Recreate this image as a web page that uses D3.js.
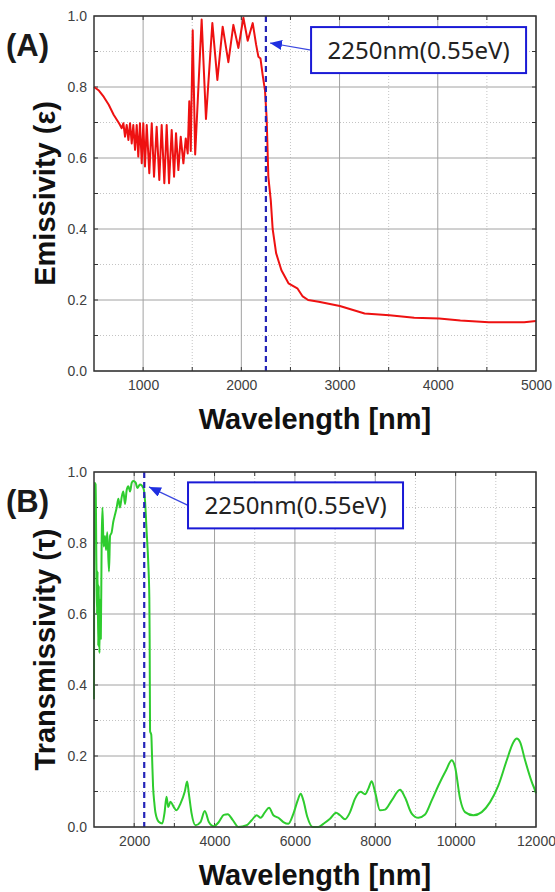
<!DOCTYPE html>
<html>
<head>
<meta charset="utf-8">
<script src="https://cdn.jsdelivr.net/npm/d3@7"></script>
<style>
  body { margin: 0; background: #fff; }
  text { font-family: "Liberation Sans", Arial, sans-serif; }
</style>
</head>
<body>
<svg id="chart"></svg>
<script>
var width = 555,
    height = 892;

// (A) emissivity
var emisWl = [500, 550, 600, 650, 700, 750, 765, 782, 799, 816, 833, 850, 867, 884, 900, 918, 935, 951, 968, 986,
  1002, 1019, 1037, 1063, 1088, 1111, 1138, 1165, 1189, 1216, 1240, 1264, 1291, 1315, 1335, 1359, 1383, 1410, 1434, 1454,
  1470, 1485, 1505, 1530, 1596, 1640, 1705, 1756, 1810, 1868, 1919, 1970, 2021, 2065, 2116, 2150, 2174, 2195, 2217, 2241,
  2258, 2275, 2300, 2319, 2354, 2408, 2480, 2570, 2625, 2680, 2788, 3003, 3255, 3508, 3760, 4014, 4230, 4520, 4880, 5000];
var emisVal = [0.800, 0.790, 0.772, 0.750, 0.722, 0.700, 0.693, 0.684, 0.698, 0.660, 0.693, 0.651, 0.698, 0.641, 0.693, 0.623, 0.693, 0.604, 0.698, 0.585,
  0.698, 0.576, 0.693, 0.557, 0.698, 0.547, 0.688, 0.538, 0.693, 0.529, 0.693, 0.529, 0.679, 0.547, 0.670, 0.566, 0.660, 0.585, 0.655, 0.613,
  0.760, 0.620, 0.960, 0.610, 0.990, 0.710, 0.980, 0.820, 0.970, 0.870, 0.975, 0.910, 0.995, 0.930, 0.980, 0.920, 0.885, 0.880, 0.834, 0.790,
  0.710, 0.547, 0.480, 0.400, 0.332, 0.284, 0.247, 0.233, 0.210, 0.200, 0.195, 0.183, 0.162, 0.157, 0.150, 0.148, 0.142, 0.137, 0.137, 0.141];

// (B) transmissivity
var transWl = [1000, 1008, 1040, 1060, 1075, 1090, 1105, 1120, 1135, 1150, 1170, 1190, 1210, 1240, 1274, 1300, 1330, 1373, 1400, 1440,
  1480, 1523, 1565, 1606, 1647, 1690, 1730, 1772, 1815, 1855, 1896, 1940, 1979, 2037, 2078, 2145, 2228, 2269, 2311, 2352,
  2377, 2385, 2395, 2425, 2445, 2470, 2500, 2530, 2610, 2700, 2755, 2805, 2847, 2903, 2986, 3052, 3152, 3260, 3318, 3360,
  3426, 3526, 3650, 3758, 3858, 3982, 4106, 4230, 4330, 4450, 4592, 4800, 4924, 5049, 5148, 5256, 5356, 5464, 5588, 5712,
  5837, 5961, 6069, 6144, 6210, 6310, 6443, 6584, 6708, 6874, 7024, 7123, 7248, 7372, 7497, 7638, 7744, 7828, 7911, 7994,
  8119, 8244, 8410, 8617, 8741, 8907, 9073, 9239, 9405, 9571, 9762, 9903, 9986, 10110, 10234, 10442, 10649, 10857, 11064, 11272,
  11438, 11521, 11604, 11728, 11894, 11977, 12000];
var transVal = [0.36, 0.97, 0.965, 0.74, 0.60, 0.72, 0.51, 0.68, 0.49, 0.64, 0.53, 0.80, 0.90, 0.79, 0.82, 0.78, 0.83, 0.72, 0.82, 0.83,
  0.86, 0.88, 0.90, 0.925, 0.90, 0.93, 0.945, 0.91, 0.95, 0.96, 0.945, 0.97, 0.975, 0.97, 0.955, 0.965, 0.955, 0.92, 0.83, 0.74,
  0.645, 0.53, 0.27, 0.26, 0.198, 0.114, 0.07, 0.04, 0.015, 0.01, 0.04, 0.085, 0.056, 0.071, 0.056, 0.047, 0.066, 0.10, 0.128, 0.095,
  0.04, 0.005, 0.014, 0.045, 0.014, 0.002, 0.014, 0.034, 0.036, 0.02, 0.0, 0.005, 0.019, 0.033, 0.026, 0.042, 0.054, 0.033, 0.026, 0.014,
  0.009, 0.037, 0.075, 0.094, 0.075, 0.028, 0.0, 0.0, 0.009, 0.023, 0.04, 0.033, 0.022, 0.042, 0.08, 0.099, 0.092, 0.108, 0.129, 0.099,
  0.047, 0.049, 0.075, 0.105, 0.083, 0.038, 0.026, 0.035, 0.075, 0.117, 0.16, 0.188, 0.169, 0.08, 0.042, 0.033, 0.042, 0.07, 0.117, 0.188,
  0.239, 0.249, 0.239, 0.188, 0.127, 0.103, 0.095];

var xTicksA = [1000, 2000, 3000, 4000, 5000];
var xMinorA = [500, 1500, 2500, 3500, 4500];
var xTicksB = [2000, 4000, 6000, 8000, 10000, 12000];
var xMinorB = [1000, 3000, 5000, 7000, 9000, 11000];
var yTicks = [0, 0.2, 0.4, 0.6, 0.8, 1.0];
var yMinor = [0.1, 0.3, 0.5, 0.7, 0.9];

var cutoffNm = 2250;
var cutoffLabel = "2250nm(0.55eV)";

var svg = d3.select('#chart')
            .attr('width', width)
            .attr('height', height);

var defs = svg.append('defs');
defs.append('marker')
    .attr('id', 'head')
    .attr('viewBox', '0 0 12 10')
    .attr('refX', 12).attr('refY', 5)
    .attr('markerWidth', 12).attr('markerHeight', 10)
    .attr('markerUnits', 'userSpaceOnUse')
    .attr('orient', 'auto')
  .append('path')
    .attr('d', 'M0,0 L12,5 L0,10 Z')
    .attr('fill', '#1f2fe0');

function drawPanel(cfg) {
  var left = 94, right = 536;
  var x = d3.scaleLinear().domain(cfg.xDomain).range([left, right]);
  var y = d3.scaleLinear().domain([0, 1]).range([cfg.bottom, cfg.top]);
  var g = svg.append('g');

  // minor grid (dotted)
  g.selectAll('.mx').data(cfg.xMinor.filter(d => d > cfg.xDomain[0])).enter().append('line')
    .attr('x1', d => x(d)).attr('x2', d => x(d))
    .attr('y1', cfg.top).attr('y2', cfg.bottom)
    .attr('stroke', '#c4c4c4').attr('stroke-dasharray', '1,2');
  g.selectAll('.my').data(yMinor).enter().append('line')
    .attr('x1', left).attr('x2', right)
    .attr('y1', d => y(d)).attr('y2', d => y(d))
    .attr('stroke', '#c4c4c4').attr('stroke-dasharray', '1,2');

  // major grid
  g.selectAll('.gx').data(cfg.xTicks).enter().append('line')
    .attr('x1', d => x(d)).attr('x2', d => x(d))
    .attr('y1', cfg.top).attr('y2', cfg.bottom)
    .attr('stroke', '#a2a2a2');
  g.selectAll('.gy').data(yTicks).enter().append('line')
    .attr('x1', left).attr('x2', right)
    .attr('y1', d => y(d)).attr('y2', d => y(d))
    .attr('stroke', '#a2a2a2');

  // inner ticks on all four sides
  var allX = cfg.xTicks.concat(cfg.xMinor).filter(d => d > cfg.xDomain[0] && d < cfg.xDomain[1]);
  var allY = yTicks.concat(yMinor).filter(d => d > 0 && d < 1);
  allX.forEach(function(d) {
    g.append('line').attr('x1', x(d)).attr('x2', x(d)).attr('y1', cfg.top).attr('y2', cfg.top + 4).attr('stroke', '#333');
    g.append('line').attr('x1', x(d)).attr('x2', x(d)).attr('y1', cfg.bottom).attr('y2', cfg.bottom - 4).attr('stroke', '#333');
  });
  allY.forEach(function(d) {
    g.append('line').attr('x1', left).attr('x2', left + 4).attr('y1', y(d)).attr('y2', y(d)).attr('stroke', '#333');
    g.append('line').attr('x1', right).attr('x2', right - 4).attr('y1', y(d)).attr('y2', y(d)).attr('stroke', '#333');
  });

  // curve
  var pts = cfg.wl.map((w, i) => [w, cfg.val[i]]);
  g.append('path')
    .datum(pts)
    .attr('fill', 'none')
    .attr('stroke', cfg.color)
    .attr('stroke-width', 2)
    .attr('stroke-linejoin', 'round')
    .attr('d', d3.line().curve(cfg.curve).x(d => x(d[0])).y(d => y(d[1])));

  // cutoff line
  g.append('line')
    .attr('x1', x(cutoffNm)).attr('x2', x(cutoffNm))
    .attr('y1', cfg.top).attr('y2', cfg.bottom)
    .attr('stroke', '#2424b8').attr('stroke-width', 2.2)
    .attr('stroke-dasharray', '6,4');

  // frame
  g.append('rect')
    .attr('x', left).attr('y', cfg.top)
    .attr('width', right - left).attr('height', cfg.bottom - cfg.top)
    .attr('fill', 'none').attr('stroke', '#333').attr('stroke-width', 1.5);

  // axes labels via d3 axes (no lines)
  var xAxis = g.append('g')
    .attr('transform', 'translate(0,' + cfg.bottom + ')')
    .call(d3.axisBottom(x).tickValues(cfg.xTicks).tickSize(0).tickPadding(9).tickFormat(d3.format('d')));
  var yAxis = g.append('g')
    .attr('transform', 'translate(' + left + ',0)')
    .call(d3.axisLeft(y).tickValues(yTicks).tickSize(0).tickPadding(7).tickFormat(d3.format('.1f')));
  [xAxis, yAxis].forEach(function(a) {
    a.select('.domain').remove();
    a.selectAll('text')
      .attr('fill', '#404040')
      .style('font-size', '14px')
      .style('font-family', '"Liberation Sans", Arial, sans-serif');
  });

  // titles
  g.append('text')
    .attr('x', (left + right) / 2).attr('y', cfg.bottom + 58)
    .attr('text-anchor', 'middle')
    .style('font-size', '29px').style('font-weight', 'bold')
    .attr('fill', '#111')
    .text('Wavelength [nm]');
  g.append('text')
    .attr('transform', 'translate(55,' + ((cfg.top + cfg.bottom) / 2) + ') rotate(-90)')
    .attr('text-anchor', 'middle')
    .style('font-size', '29px').style('font-weight', 'bold')
    .attr('fill', '#111')
    .text(cfg.yLabel);
  g.append('text')
    .attr('x', 6).attr('y', cfg.top + 40)
    .style('font-size', '31px').style('font-weight', 'bold')
    .attr('fill', '#1a1a1a')
    .text(cfg.tag);

  // annotation: arrow + box
  var bx = x(cfg.boxAt[0]), by = y(cfg.boxAt[1]);
  g.append('line')
    .attr('x1', bx).attr('y1', by)
    .attr('x2', x(cfg.tipAt[0])).attr('y2', y(cfg.tipAt[1]))
    .attr('stroke', '#3b48e0').attr('stroke-width', 1.2)
    .attr('marker-end', 'url(#head)');
  g.append('rect')
    .attr('x', bx).attr('y', by - 23)
    .attr('width', 215).attr('height', 46)
    .attr('fill', '#fff').attr('stroke', '#1a1ad6').attr('stroke-width', 2);
  g.append('text')
    .attr('x', bx + 107.5).attr('y', by + 8.5)
    .attr('text-anchor', 'middle')
    .style('font-family', '"Noto Sans", "Open Sans", sans-serif')
    .style('font-size', '24px')
    .attr('fill', '#222')
    .text(cutoffLabel);
}

drawPanel({
  top: 16, bottom: 371,
  xDomain: [500, 5000], xTicks: xTicksA, xMinor: xMinorA,
  wl: emisWl, val: emisVal, color: '#ee1111', curve: d3.curveLinear,
  yLabel: 'Emissivity (\u03b5)', tag: '(A)',
  tipAt: [2292, 0.924], boxAt: [2710, 0.904]
});

drawPanel({
  top: 472, bottom: 827,
  xDomain: [1000, 12000], xTicks: xTicksB, xMinor: xMinorB,
  wl: transWl, val: transVal, color: '#2ecc2e', curve: d3.curveMonotoneX,
  yLabel: 'Transmissivity (\u03c4)', tag: '(B)',
  tipAt: [2369, 0.958], boxAt: [3340, 0.906]
});
</script>
</body>
</html>
